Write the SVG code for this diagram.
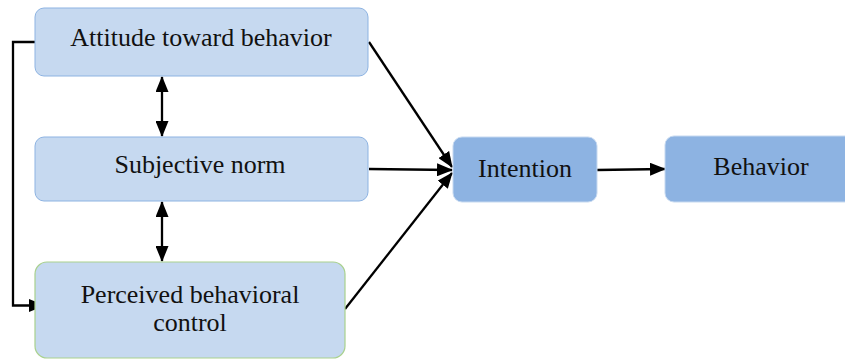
<svg xmlns="http://www.w3.org/2000/svg" width="845" height="360" viewBox="0 0 845 360">
<style>
.lt{fill:#c6d9f0;stroke:#8db3e2;stroke-width:1}
.dk{fill:#8db3e2;stroke:#c6d9f0;stroke-width:1}
.gr{fill:#c6d9f0;stroke:#a9d18e;stroke-width:1.2}
text{font-family:"Liberation Serif","Times New Roman",serif;font-size:26px;fill:#111;text-anchor:middle}
.c{fill:none;stroke:#000;stroke-width:2.3}
</style>
<defs>
<marker id="ah" viewBox="0 0 16 13" refX="15" refY="6.5" markerWidth="16" markerHeight="13" orient="auto-start-reverse" markerUnits="userSpaceOnUse">
<path d="M0,0 L16,6.5 L0,13 z" fill="#000"/>
</marker>
</defs>
<g id="connectors">
<path class="c" d="M35,42 H13 V305.5 H44" marker-end="url(#ah)"/>
<line class="c" x1="162" y1="77" x2="162" y2="136" marker-start="url(#ah)" marker-end="url(#ah)"/>
<line class="c" x1="162" y1="202" x2="162" y2="261" marker-start="url(#ah)" marker-end="url(#ah)"/>
<line class="c" x1="369" y1="42" x2="452" y2="167" marker-end="url(#ah)"/>
<line class="c" x1="369" y1="169" x2="452" y2="170" marker-end="url(#ah)"/>
<line class="c" x1="345" y1="309" x2="452" y2="173" marker-end="url(#ah)"/>
<line class="c" x1="597" y1="170" x2="665" y2="169" marker-end="url(#ah)"/>
</g>
<g id="attitude">
<rect class="lt" x="35" y="8" width="333" height="68" rx="9"/>
<text x="201" y="46">Attitude toward behavior</text>
</g>
<g id="subjective">
<rect class="lt" x="35" y="137" width="333" height="64" rx="9"/>
<text x="200" y="173">Subjective norm</text>
</g>
<g id="perceived">
<rect class="gr" x="35" y="262" width="310" height="96" rx="12"/>
<text x="190" y="303">Perceived behavioral</text>
<text x="190" y="331">control</text>
</g>
<g id="intention">
<rect class="dk" x="453" y="137" width="144" height="65" rx="9"/>
<text x="525" y="177">Intention</text>
</g>
<g id="behavior">
<rect class="dk" x="665" y="136" width="190" height="66" rx="9"/>
<text x="761" y="175">Behavior</text>
</g>
</svg>
